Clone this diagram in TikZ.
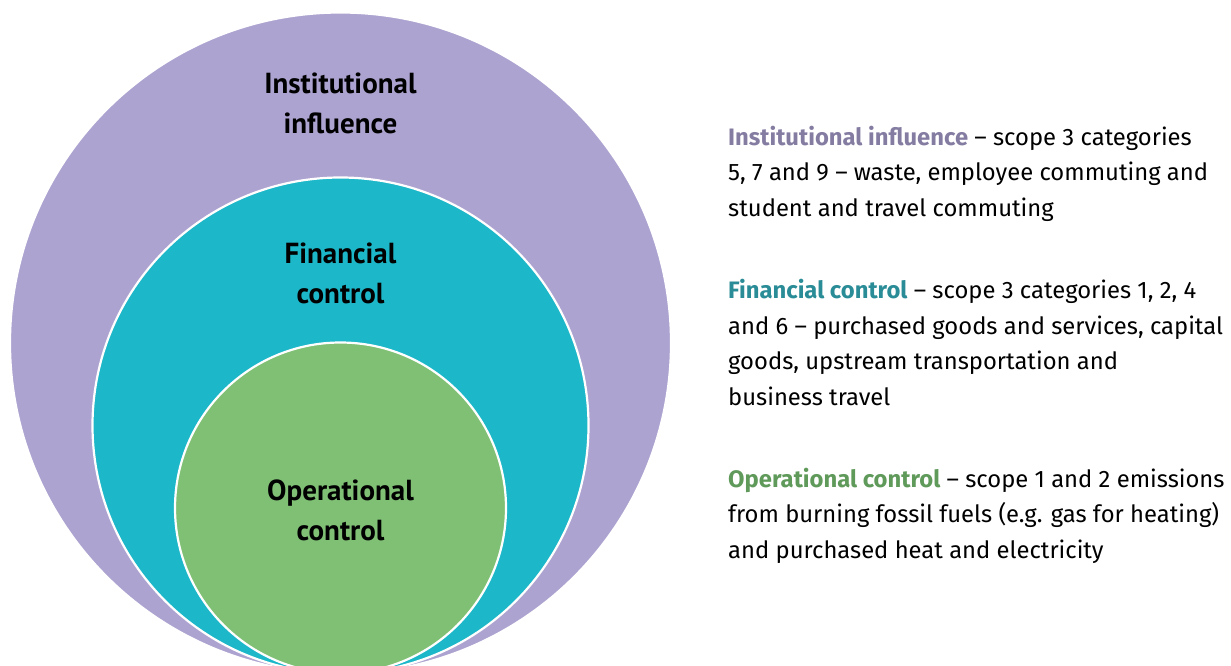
\documentclass[tikz,border=0pt]{standalone}
\usepackage{fontspec}
\setmainfont{Fira Sans}
\newfontfamily\labelfont{PT Sans}
\definecolor{instcol}{HTML}{ADA3D0}
\definecolor{fincol}{HTML}{1CB7C8}
\definecolor{opcol}{HTML}{80C075}
\definecolor{insttext}{HTML}{857CA2}
\definecolor{fintext}{HTML}{2A8C96}
\definecolor{optext}{HTML}{5F9A5A}
\begin{document}
\begin{tikzpicture}[x=1pt,y=-1pt,
  ring/.style={circle,draw=white,line width=2.2pt,inner sep=0pt},
  ringlabel/.style={font=\labelfont\bfseries\fontsize{29}{40}\selectfont,align=center,text=black},
  desc/.style={font=\fontsize{23.8}{35.5}\selectfont,align=left,anchor=base west,inner sep=0pt,text=black}]
\useasboundingbox (0,0) rectangle (1231,666);
\clip (0,0) rectangle (1231,666);
\fill[white] (0,0) rectangle (1231,666);
\node[ring,fill=instcol,minimum size=661pt] (outer) at (340.5,343) {};
\node[ring,fill=fincol,minimum size=496pt] (middle) at (340.5,425.5) {};
\node[ring,fill=opcol,minimum size=331pt] (inner) at (340.5,508) {};
\node[ringlabel] (l1) at (340.5,103) {Institutional\\influence};
\node[ringlabel] (l2) at (340.5,273) {Financial\\control};
\node[ringlabel] (l3) at (340.5,510) {Operational\\control};
\node[desc] (d1) at (728,216) {{\color{insttext}\bfseries Institutional influence} -- scope 3 categories\\5, 7 and 9 -- waste, employee commuting and\\student and travel commuting};
\node[desc] (d2) at (728,405) {{\color{fintext}\bfseries Financial control} -- scope 3 categories 1, 2, 4\\and 6 -- purchased goods and services, capital\\goods, upstream transportation and\\business travel};
\node[desc] (d3) at (728,558) {{\color{optext}\bfseries Operational control} -- scope 1 and 2 emissions\\from burning fossil fuels (e.g. gas for heating)\\and purchased heat and electricity};
\end{tikzpicture}
\end{document}
